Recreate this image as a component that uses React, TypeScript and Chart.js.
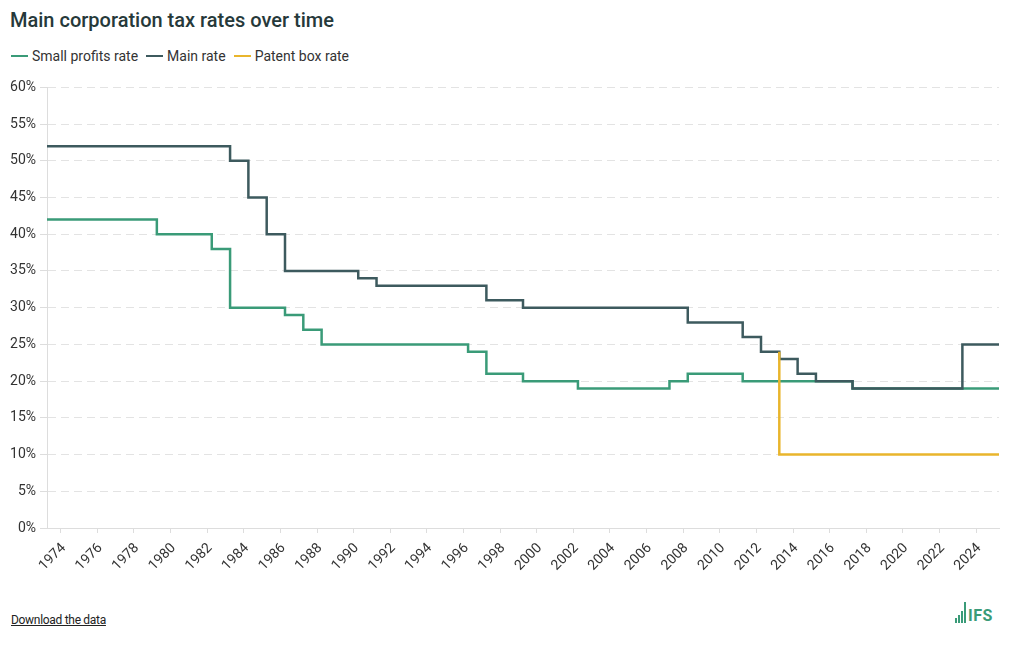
import React, { useEffect, useRef } from "react";
import { Chart, registerables } from "chart.js";

Chart.register(...registerables);

// Fiscal years (rate applies from April of that year) and rates in %
const smallProfitsYears = [1973, 1979, 1982, 1983, 1986, 1987, 1988, 1996, 1997, 1999, 2002, 2007, 2008, 2011, 2017, 2025];
const smallProfitsRates = [42, 40, 38, 30, 29, 27, 25, 24, 21, 20, 19, 20, 21, 20, 19, 19];

const mainYears = [1973, 1983, 1984, 1985, 1986, 1990, 1991, 1997, 1999, 2008, 2011, 2012, 2013, 2014, 2015, 2017, 2023, 2025];
const mainRates = [52, 50, 45, 40, 35, 34, 33, 31, 30, 28, 26, 24, 23, 21, 20, 19, 25, 25];

const patentBoxYears = [2013, 2013, 2025];
const patentBoxRates = [24, 10, 10];

const tickYears = [1974, 1976, 1978, 1980, 1982, 1984, 1986, 1988, 1990, 1992, 1994, 1996, 1998, 2000, 2002, 2004, 2006, 2008, 2010, 2012, 2014, 2016, 2018, 2020, 2022, 2024];

const GREEN = "#3a9b78";
const DARK = "#3d5a5e";
const YELLOW = "#e9b52c";
const TEXT = "#333333";
const FONT = "Roboto, 'Noto Sans', sans-serif";

const APRIL = 0.25;
const toPoints = (years: number[], rates: number[]) =>
  years.map((y, i) => ({ x: y + APRIL, y: rates[i] }));

export default function App() {
  const canvasRef = useRef<HTMLCanvasElement | null>(null);

  useEffect(() => {
    document.body.style.margin = "0";
    const ctx = canvasRef.current;
    if (!ctx) return;
    Chart.defaults.font.family = FONT;
    const chart = new Chart(ctx, {
      type: "line",
      data: {
        datasets: [
          {
            label: "Patent box rate",
            data: toPoints(patentBoxYears, patentBoxRates),
            borderColor: YELLOW,
            backgroundColor: YELLOW,
            borderWidth: 2.5,
            stepped: true,
            pointRadius: 0,
            order: 0,
          },
          {
            label: "Main rate",
            data: toPoints(mainYears, mainRates),
            borderColor: DARK,
            backgroundColor: DARK,
            borderWidth: 2.5,
            stepped: true,
            pointRadius: 0,
            order: 1,
          },
          {
            label: "Small profits rate",
            data: toPoints(smallProfitsYears, smallProfitsRates),
            borderColor: GREEN,
            backgroundColor: GREEN,
            borderWidth: 2.5,
            stepped: true,
            pointRadius: 0,
            order: 2,
          },
        ],
      },
      options: {
        animation: false,
        responsive: false,
        maintainAspectRatio: false,
        layout: { padding: { top: 10, right: 21, bottom: 0, left: 0 } },
        plugins: {
          legend: { display: false },
          title: { display: false },
          tooltip: { enabled: false },
        },
        scales: {
          x: {
            type: "linear",
            min: 1973.25,
            max: 2025.25,
            afterBuildTicks: (scale: any) => {
              scale.ticks = tickYears.map((v) => ({ value: v }));
            },
            afterFit: (scale: any) => {
              scale.height = 62;
              scale.paddingLeft = 0;
              scale.paddingRight = 0;
            },
            ticks: {
              autoSkip: false,
              maxRotation: 45,
              minRotation: 45,
              padding: 7,
              labelOffset: 3,
              color: TEXT,
              font: { size: 14, family: FONT },
              callback: (v: any) => String(v),
            },
            grid: {
              display: true,
              drawOnChartArea: false,
              drawTicks: true,
              tickLength: 5,
              color: "#dddddd",
            },
            border: { display: true, color: "#dddddd", width: 1 },
          },
          y: {
            min: 0,
            max: 60,
            afterFit: (scale: any) => {
              scale.width = 47;
            },
            ticks: {
              stepSize: 5,
              padding: 4,
              color: TEXT,
              font: { size: 14, family: FONT },
              callback: (v: any) => v + "%",
            },
            grid: {
              color: "#e3e3e3",
              tickLength: 7,
              tickColor: "#dddddd",
              tickBorderDash: [],
            },
            border: { display: true, color: "#dddddd", width: 1, dash: [8, 5] },
          },
        },
      },
    });
    return () => chart.destroy();
  }, []);

  const legendItems = [
    { label: "Small profits rate", color: GREEN },
    { label: "Main rate", color: DARK },
    { label: "Patent box rate", color: YELLOW },
  ];

  const bars = [
    { left: 955, top: 618, h: 5 },
    { left: 958, top: 615, h: 8 },
    { left: 961, top: 611, h: 12 },
    { left: 964, top: 602, h: 21 },
  ];

  return (
    <div style={{ position: "relative", width: 1020, height: 650, fontFamily: FONT, color: TEXT, background: "#fff" }}>
      <div style={{ position: "absolute", left: 10, top: 8, fontSize: 20, fontWeight: 500, color: "#26393a", whiteSpace: "nowrap" }}>
        Main corporation tax rates over time
      </div>
      <div style={{ position: "absolute", left: 11, top: 46, height: 20, display: "flex", alignItems: "center", fontSize: 14, color: TEXT, whiteSpace: "nowrap" }}>
        {legendItems.map((it) => (
          <div key={it.label} style={{ display: "flex", alignItems: "center", marginRight: 8 }}>
            <span style={{ display: "inline-block", width: 17, height: 2, background: it.color, marginRight: 4 }} />
            <span>{it.label}</span>
          </div>
        ))}
      </div>
      <canvas ref={canvasRef} width={1020} height={515} style={{ position: "absolute", left: 0, top: 75, width: 1020, height: 515 }} />
      <div style={{ position: "absolute", left: 11, top: 613, fontSize: 12, textDecoration: "underline", color: "#222", whiteSpace: "nowrap", letterSpacing: -0.3 }}>
        Download the data
      </div>
      {bars.map((b, i) => (
        <div key={i} style={{ position: "absolute", left: b.left, top: b.top, width: 2, height: b.h, background: GREEN }} />
      ))}
      <div style={{ position: "absolute", left: 968, top: 607, fontSize: 16, fontWeight: 700, color: GREEN, letterSpacing: 0.5, lineHeight: "18px" }}>
        IFS
      </div>
    </div>
  );
}
